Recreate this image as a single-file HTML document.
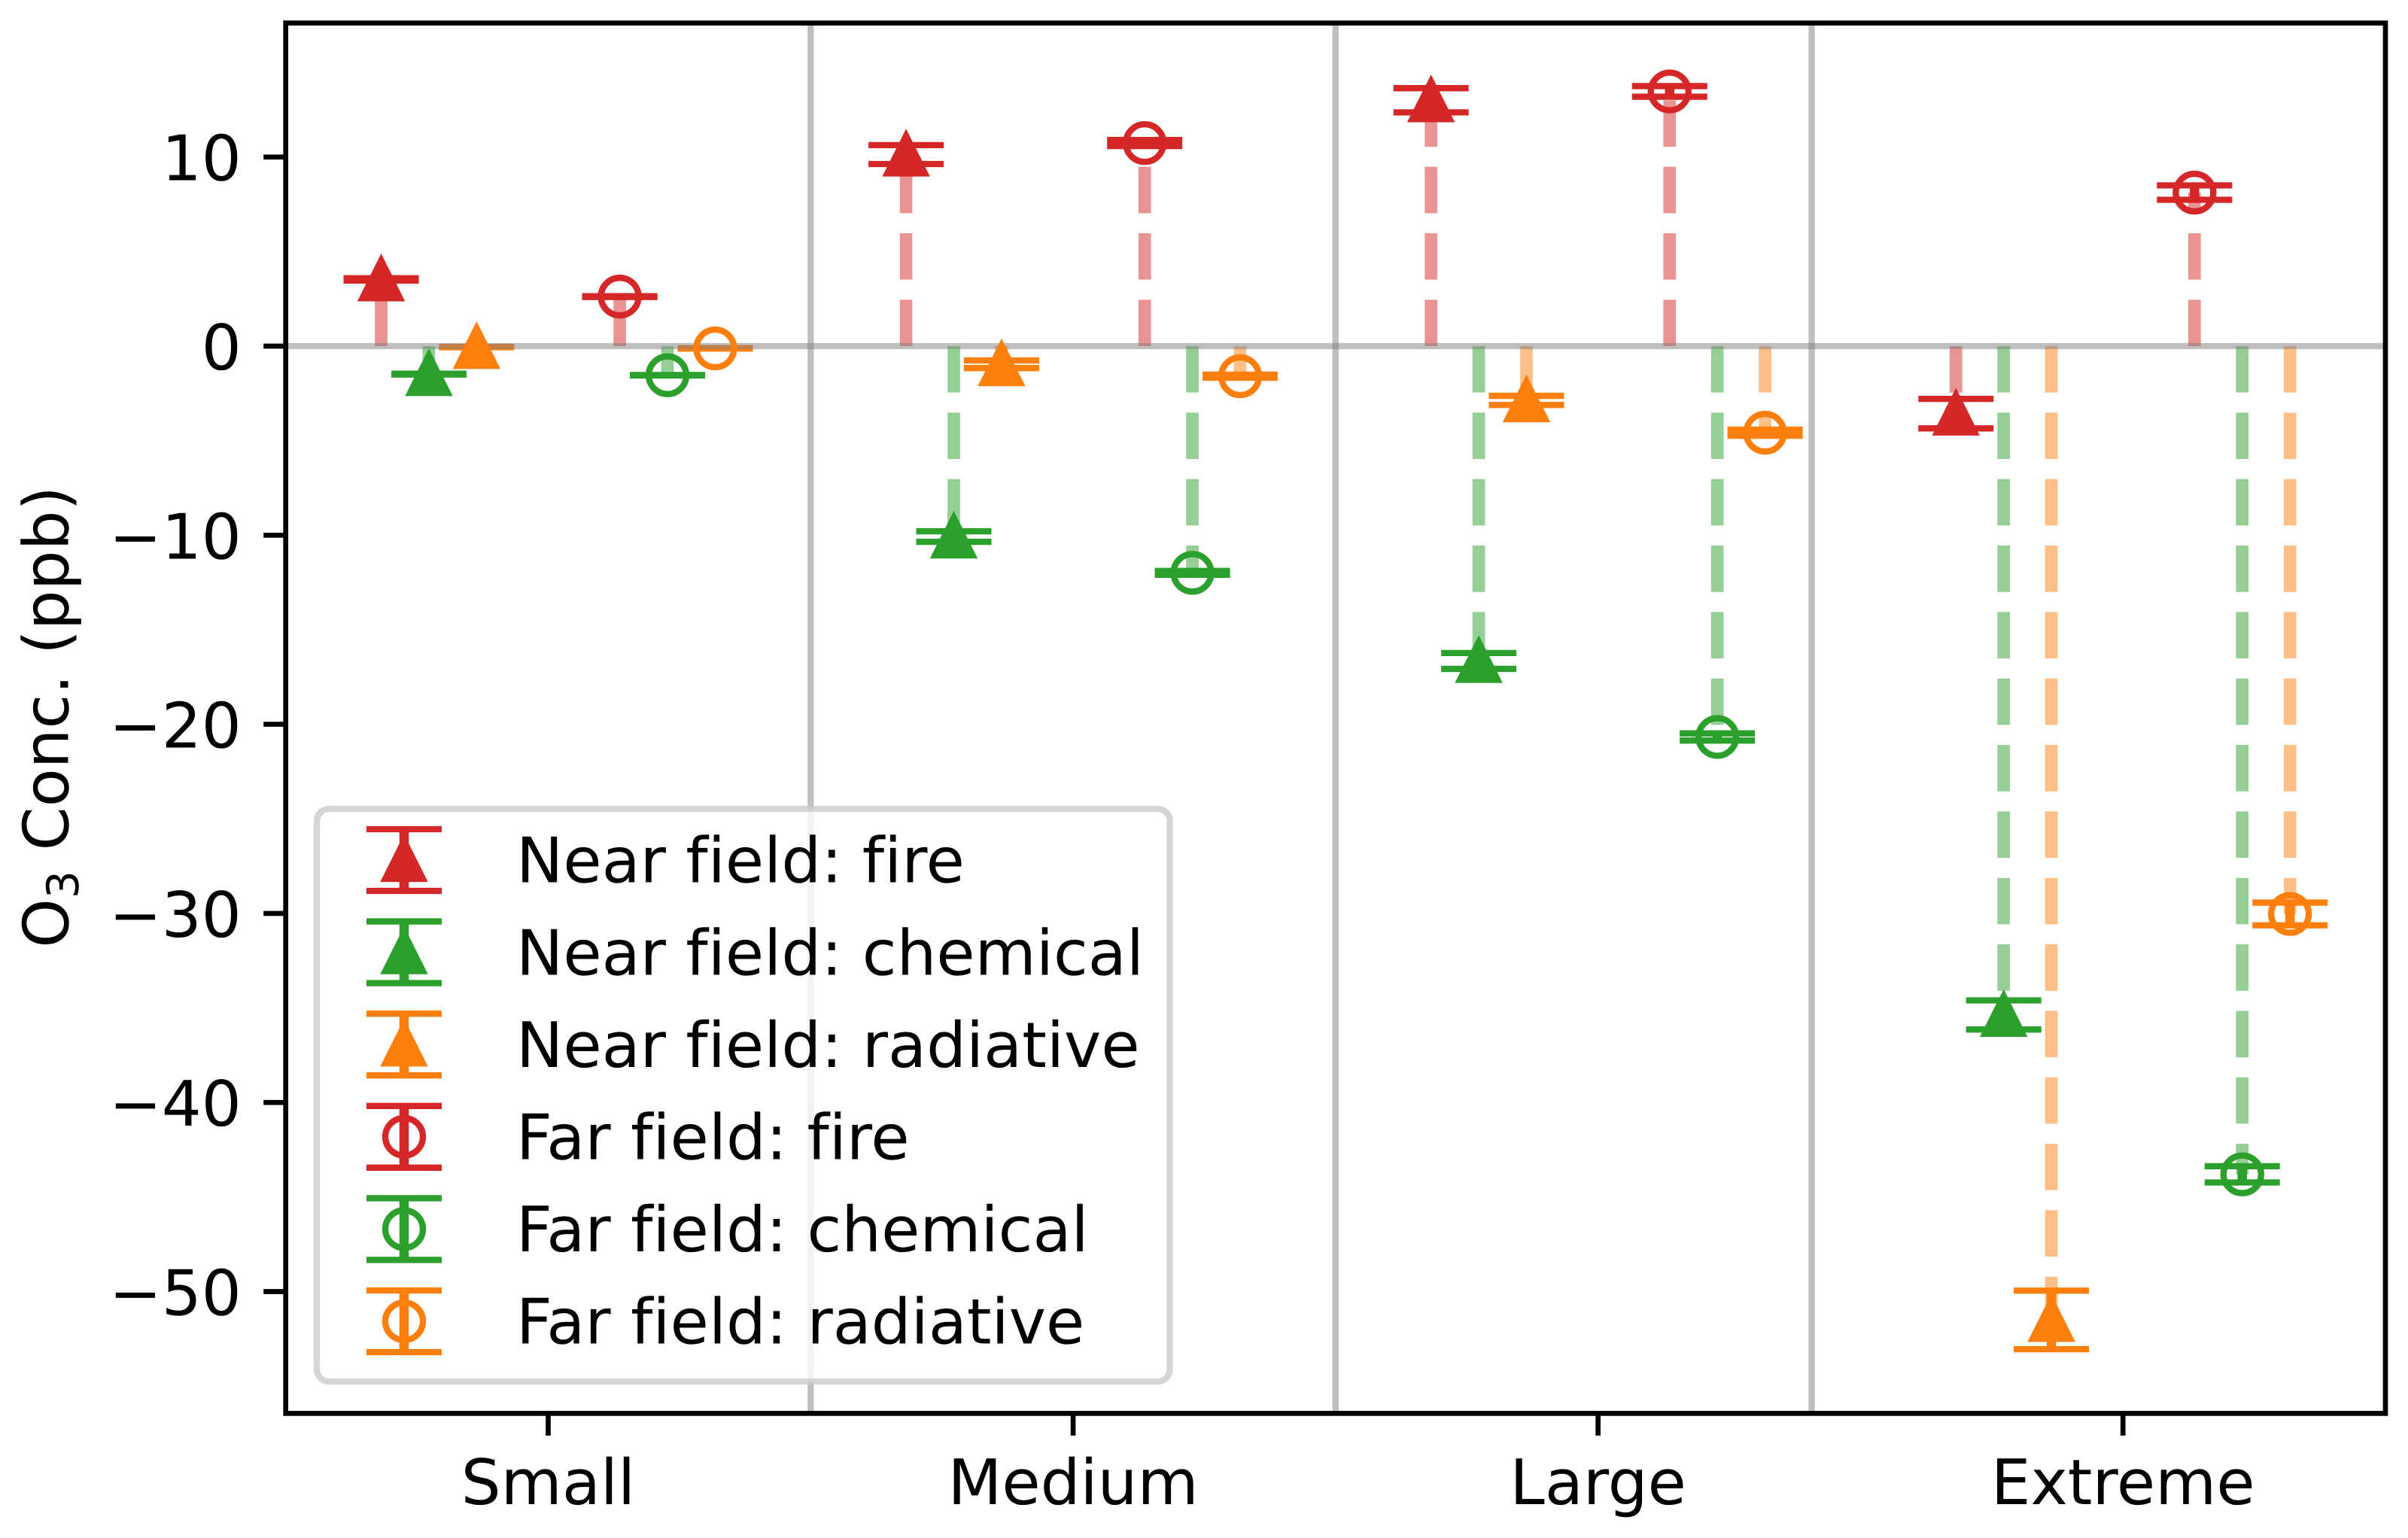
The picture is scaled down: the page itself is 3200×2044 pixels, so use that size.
<!DOCTYPE html>
<html lang="en">
<head>
<meta charset="utf-8">
<title>O3 concentration by fire size</title>
<style>
  html, body { margin: 0; padding: 0; background: #fff; }
  svg { display: block; }
  text { font-family: "DejaVu Sans", "Liberation Sans", sans-serif; font-size: 83.33px; fill: #000; text-rendering: geometricPrecision; font-variant-ligatures: none; font-feature-settings: "liga" 0, "clig" 0; }
</style>
</head>
<body>
<svg id="chart" xmlns="http://www.w3.org/2000/svg" width="3200" height="2044" viewBox="0 0 3200 2044">
  <rect x="0" y="0" width="3200" height="2044" fill="#ffffff"/>
  <g id="dash-layer"></g>
  <g id="error-layer"></g>
  <g id="ref-layer"></g>
  <g id="marker-layer"></g>
  <g id="axis-layer"></g>
  <text transform="translate(90.5,1259.7) rotate(-90)">O<tspan dy="13.5" style="font-size:58.33px">3</tspan><tspan dy="-13.5" xml:space="preserve"> Conc. (ppb)</tspan></text>
  <g>
    <rect x="421" y="1075" width="1133.5" height="761" rx="16" ry="16" fill="rgba(255,255,255,0.8)" stroke="rgba(204,204,204,0.8)" stroke-width="8.33"/>
    <g id="legend-symbols"></g>
    <text x="686" y="1172.7">Near field: fire</text>
    <text x="686" y="1295.3">Near field: chemical</text>
    <text x="686" y="1417.9">Near field: radiative</text>
    <text x="686" y="1540.5">Far field: fire</text>
    <text x="686" y="1663.1">Far field: chemical</text>
    <text x="686" y="1785.7">Far field: radiative</text>
  </g>
</svg>
<script>
const categories = ['Small', 'Medium', 'Large', 'Extreme'];
const yTicks = [10, 0, -10, -20, -30, -40, -50];
const dividers = [0.5, 1.5, 2.407];

const nearFire = [3.53, 10.13, 13.0, -3.57];
const nearFireErr = [0.06, 0.5, 0.64, 0.78];
const nearChemical = [-1.48, -10.07, -16.65, -35.37];
const nearChemicalErr = [0.02, 0.28, 0.42, 0.77];
const nearRadiative = [-0.05, -0.96, -2.87, -51.5];
const nearRadiativeErr = [0.01, 0.2, 0.24, 1.55];
const farFire = [2.62, 10.74, 13.47, 8.12];
const farFireErr = [0.02, 0.16, 0.28, 0.38];
const farChemical = [-1.54, -11.99, -20.67, -43.8];
const farChemicalErr = [0.01, 0.1, 0.19, 0.43];
const farRadiative = [-0.12, -1.59, -4.58, -30.03];
const farRadiativeErr = [0.01, 0.08, 0.16, 0.6];

const RED = '#d62728', GREEN = '#2ca02c', ORANGE = '#ff7f0e';
const series = [
  { key: 'near-fire', color: RED, shape: 'triangle', values: nearFire, errs: nearFireErr },
  { key: 'near-chemical', color: GREEN, shape: 'triangle', values: nearChemical, errs: nearChemicalErr },
  { key: 'near-radiative', color: ORANGE, shape: 'triangle', values: nearRadiative, errs: nearRadiativeErr },
  { key: 'far-fire', color: RED, shape: 'circle', values: farFire, errs: farFireErr },
  { key: 'far-chemical', color: GREEN, shape: 'circle', values: farChemical, errs: farChemicalErr },
  { key: 'far-radiative', color: ORANGE, shape: 'circle', values: farRadiative, errs: farRadiativeErr }
];

const AX = { left: 379.7, right: 3170, top: 30.6, bottom: 1878.4 };
const X_MIN = -0.5, X_MAX = 3.5;
const Y_ZERO_PX = 460, Y_UNIT_PX = 25.13;
const Y_MAX = (Y_ZERO_PX - AX.top) / Y_UNIT_PX;
const Y_MIN = (Y_ZERO_PX - AX.bottom) / Y_UNIT_PX;
const MARKER_R = 25, EDGE_W = 8.33;

function xScale(v) { return AX.left + (v - X_MIN) / (X_MAX - X_MIN) * (AX.right - AX.left); }
function yScale(v) { return AX.top + (Y_MAX - v) / (Y_MAX - Y_MIN) * (AX.bottom - AX.top); }
function seriesOffset(i) { return (i < 3 ? i - 3.5 : i - 1.5) / 11; }

const NS = 'http://www.w3.org/2000/svg';
const dashLayer = document.getElementById('dash-layer');
const errorLayer = document.getElementById('error-layer');
const refLayer = document.getElementById('ref-layer');
const markerLayer = document.getElementById('marker-layer');
const axisLayer = document.getElementById('axis-layer');
const legendSymbols = document.getElementById('legend-symbols');

function mk(parent, tag, attrs) {
  const el = document.createElementNS(NS, tag);
  for (const k in attrs) el.setAttribute(k, attrs[k]);
  parent.appendChild(el);
  return el;
}
function hLine(parent, x1, x2, y, color, w) {
  return mk(parent, 'line', { x1: x1, x2: x2, y1: y, y2: y, stroke: color, 'stroke-width': w });
}
function vLine(parent, x, y1, y2, color, w) {
  return mk(parent, 'line', { x1: x, x2: x, y1: y1, y2: y2, stroke: color, 'stroke-width': w });
}
function marker(parent, shape, cx, cy, color) {
  if (shape === 'triangle') {
    const pts = cx + ',' + (cy - MARKER_R) + ' ' + (cx - MARKER_R) + ',' + (cy + MARKER_R) + ' ' + (cx + MARKER_R) + ',' + (cy + MARKER_R);
    return mk(parent, 'polygon', { points: pts, fill: color, stroke: color, 'stroke-width': EDGE_W, 'stroke-linejoin': 'miter', 'stroke-miterlimit': 10 });
  }
  return mk(parent, 'circle', { cx: cx, cy: cy, r: MARKER_R, fill: 'none', stroke: color, 'stroke-width': EDGE_W });
}

// data marks
series.forEach(function (s, i) {
  s.values.forEach(function (v, c) {
    const cx = xScale(c + seriesOffset(i));
    const e = s.errs[c];
    const label = s.key + '-' + categories[c].toLowerCase();

    const stem = vLine(dashLayer, cx, yScale(0), yScale(v), s.color, 16.67);
    stem.setAttribute('stroke-opacity', '0.5');
    stem.setAttribute('stroke-dasharray', '61.67 26.67');
    
    

    const bar = vLine(errorLayer, cx, yScale(v + e), yScale(v - e), s.color, 12.5);
    
    

    const capHigh = hLine(errorLayer, cx - 50, cx + 50, yScale(v + e), s.color, EDGE_W);
    
    

    const capLow = hLine(errorLayer, cx - 50, cx + 50, yScale(v - e), s.color, EDGE_W);
    
    

    const point = marker(markerLayer, s.shape, cx, yScale(v), s.color);
    
    
  });
});

// reference lines
const zeroLine = hLine(refLayer, AX.left, AX.right, yScale(0), 'rgba(128,128,128,0.5)', EDGE_W);


dividers.forEach(function (d) {
  const div = vLine(refLayer, xScale(d), AX.top, AX.bottom, 'rgba(128,128,128,0.5)', EDGE_W);
  
  
});

// axes
const frame = mk(axisLayer, 'rect', { x: AX.left, y: AX.top, width: AX.right - AX.left, height: AX.bottom - AX.top, fill: 'none', stroke: '#000', 'stroke-width': 6.67 });



yTicks.forEach(function (v) {
  const y = yScale(v);
  const tick = hLine(axisLayer, AX.left - 29.5, AX.left, y, '#000', 6.67);
  
  
  const lab = mk(axisLayer, 'text', { x: 320.8, y: y + 31, 'text-anchor': 'end' });
  lab.textContent = String(v).replace('-', '\u2212');
  
  
});

categories.forEach(function (name, c) {
  const x = xScale(c);
  const tick = mk(axisLayer, 'line', { x1: x, x2: x, y1: AX.bottom, y2: AX.bottom + 29.5, stroke: '#000', 'stroke-width': 6.67 });
  
  
  const lab = mk(axisLayer, 'text', { x: x, y: 1999, 'text-anchor': 'middle' });
  lab.textContent = name;
  
  
});

// legend symbols
series.forEach(function (s, i) {
  const cx = 537;
  const cy = 1143 + i * 122.6;
  const g = mk(legendSymbols, 'g', {});
  
  
  vLine(g, cx, cy - 41, cy + 41, s.color, 12.5);
  hLine(g, cx - 50, cx + 50, cy - 41, s.color, EDGE_W);
  hLine(g, cx - 50, cx + 50, cy + 41, s.color, EDGE_W);
  marker(g, s.shape, cx, cy, s.color);
});
</script>
</body>
</html>
